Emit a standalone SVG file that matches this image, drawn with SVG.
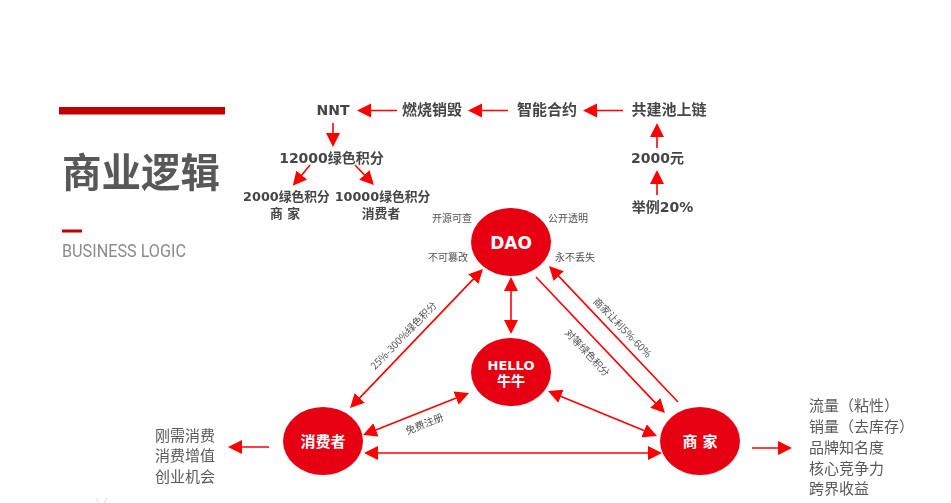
<svg xmlns="http://www.w3.org/2000/svg" width="951" height="503" viewBox="0 0 951 503">
<style>
text{font-family:"Noto Sans CJK SC","Noto Sans",sans-serif;dominant-baseline:central}
.h{font-family:"DejaVu Sans","Noto Sans CJK SC",sans-serif;font-weight:700;font-size:14px;fill:#454545;text-anchor:middle}
.q{font-size:15px}
.s{font-size:12.8px}
.l{font-size:10px;fill:#505050;text-anchor:middle}
.r{font-size:15px;fill:#595959}
.n{fill:#e60012}
.w{font-family:"DejaVu Sans","Noto Sans CJK SC",sans-serif;font-weight:700;fill:#fff;text-anchor:middle}
.c line{stroke:#f00;stroke-width:1.6;fill:none}
.e{marker-end:url(#a)}
.b{marker-start:url(#a);marker-end:url(#a)}
</style>
<defs>
<marker id="a" markerUnits="userSpaceOnUse" markerWidth="15" markerHeight="15" refX="9" refY="7.5" orient="auto-start-reverse"><path d="M0 0.5L14 7.5L0 14.5Z" fill="#f00"/></marker>
<filter id="soft" x="-5%" y="-5%" width="110%" height="110%"><feGaussianBlur stdDeviation="0.35"/></filter>
</defs>
<rect width="951" height="503" fill="#fff"/>
<g id="title" filter="url(#soft)">
<rect x="59" y="107" width="166" height="7.5" fill="#c00000"/>
<text x="62" y="169" font-size="39.5" font-weight="700" fill="#595959">商业逻辑</text>
<rect x="62" y="229.5" width="20" height="3" fill="#c00000"/>
<text x="62" y="250" font-size="18" fill="#8c8c8c" style="font-family:Roboto,sans-serif;font-weight:400" textLength="124" lengthAdjust="spacingAndGlyphs">BUSINESS LOGIC</text>
</g>
<g id="connectors" class="c">
<line class="e" x1="397" y1="110.5" x2="362" y2="110.5"/>
<line class="e" x1="508" y1="110.5" x2="473" y2="110.5"/>
<line class="e" x1="623" y1="110.5" x2="588" y2="110.5"/>
<line class="e" x1="657" y1="148" x2="657" y2="128"/>
<line class="e" x1="657" y1="195" x2="657" y2="175"/>
<line class="e" x1="333" y1="123" x2="333" y2="142"/>
<line class="e" x1="310" y1="165" x2="296" y2="182"/>
<line class="e" x1="355" y1="165" x2="370.5" y2="181.4"/>
<line class="b" x1="479.5" y1="272.6" x2="353.5" y2="404.4"/>
<line class="b" x1="511" y1="282" x2="511" y2="329"/>
<line class="e" x1="536" y1="277" x2="661.5" y2="409.4"/>
<line class="e" x1="678" y1="402" x2="552.5" y2="269.6"/>
<line class="b" x1="464.4" y1="394.8" x2="367.6" y2="433.2"/>
<line class="b" x1="552.6" y1="392.9" x2="652.4" y2="434.1"/>
<line class="b" x1="369" y1="453" x2="657" y2="453"/>
<line class="e" x1="269" y1="447" x2="233" y2="447"/>
<line class="e" x1="752" y1="448" x2="787" y2="448"/>
</g>
<g id="flow" filter="url(#soft)">
<text class="h" x="333" y="110" font-size="13">NNT</text>
<text class="h q" x="432" y="109.5">燃烧销毁</text>
<text class="h q" x="547" y="109.5">智能合约</text>
<text class="h q" x="669" y="109.5">共建池上链</text>
<text class="h" x="657.5" y="158">2000元</text>
<text class="h" x="662.5" y="207">举例20%</text>
<text class="h" x="331.5" y="158">12000绿色积分</text>
<text class="h s" x="286.5" y="196">2000绿色积分</text>
<text class="h s" x="382.5" y="196">10000绿色积分</text>
<text class="h s" x="285" y="213.5">商 家</text>
<text class="h s" x="381" y="213.5">消费者</text>
</g>
<g id="node-dao"><ellipse class="n" cx="511" cy="242" rx="40" ry="34"/><text class="w" x="511" y="243" font-size="17">DAO</text></g>
<g id="node-hello"><ellipse class="n" cx="511" cy="372" rx="40" ry="34"/><text class="w" x="511" y="365.5" font-size="13">HELLO</text><text class="w" x="511" y="381" font-size="14">牛牛</text></g>
<g id="node-consumer"><ellipse class="n" cx="323" cy="441" rx="40" ry="34"/><text class="w" x="323" y="441.5" font-size="15">消费者</text></g>
<g id="node-merchant"><ellipse class="n" cx="700" cy="441" rx="40" ry="34"/><text class="w" x="700" y="441.5" font-size="15">商 家</text></g>
<g id="labels" filter="url(#soft)">
<text class="l" x="452" y="217.5">开源可查</text>
<text class="l" x="568" y="217.5">公开透明</text>
<text class="l" x="448" y="256.5">不可篡改</text>
<text class="l" x="575" y="256.5">永不丢失</text>
<text class="l" transform="translate(403 335) rotate(-46)">25%-300%绿色积分</text>
<text class="l" transform="translate(623 327) rotate(46)">商家让利5%-60%</text>
<text class="l" transform="translate(588 352) rotate(47)">对等绿色积分</text>
<text class="l" transform="translate(424 423) rotate(-22)">免费注册</text>
</g>
<g id="consumer-benefits" filter="url(#soft)">
<text class="r" x="155" y="434">刚需消费</text>
<text class="r" x="155" y="454">消费增值</text>
<text class="r" x="155" y="475">创业机会</text>
</g>
<g id="merchant-benefits" filter="url(#soft)">
<text class="r" x="809" y="404">流量（粘性）</text>
<text class="r" x="809" y="425">销量（去库存）</text>
<text class="r" x="809" y="446">品牌知名度</text>
<text class="r" x="809" y="467">核心竞争力</text>
<text class="r" x="809" y="487">跨界收益</text>
</g>
<path d="M96 498L99 503M107 498L104 503" stroke="#ddd" stroke-width="1" fill="none"/>
</svg>
